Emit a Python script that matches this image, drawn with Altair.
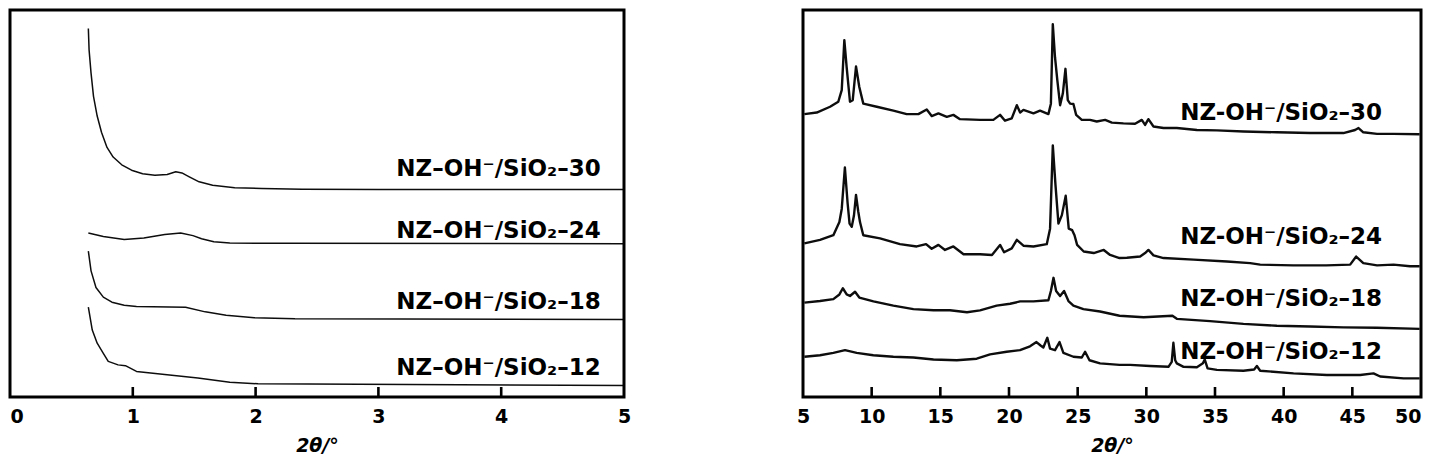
import altair as alt
import pandas as pd

# ---------------- Left panel (small-angle XRD), 2θ 0–5 ----------------
L_LABELS = ["NZ–OH⁻/SiO₂–30", "NZ–OH⁻/SiO₂–24", "NZ–OH⁻/SiO₂–18", "NZ–OH⁻/SiO₂–12"]
L_LABEL_X = [4.81, 4.81, 4.81, 4.81]
L_LABEL_Y = [59.0, 43.0, 24.6, 7.6]

L30_X = [0.638, 0.644, 0.66, 0.68, 0.71, 0.745, 0.79, 0.84, 0.91, 0.99, 1.08, 1.18, 1.28, 1.35,
         1.40, 1.46, 1.54, 1.65, 1.83, 2.05, 2.38, 3.0, 4.0, 5.0]
L30_Y = [95.2, 89.7, 83.7, 77.7, 72.6, 68.4, 64.5, 62.0, 60.0, 58.6, 57.7, 57.3, 57.5, 58.2,
         57.9, 56.9, 55.6, 54.7, 54.1, 53.9, 53.7, 53.6, 53.6, 53.6]
L24_X = [0.638, 0.76, 0.93, 1.09, 1.26, 1.39, 1.49, 1.56, 1.66, 1.79, 2.25, 5.0]
L24_Y = [42.4, 41.5, 40.7, 41.1, 42.0, 42.4, 41.7, 40.9, 40.1, 39.8, 39.7, 39.6]
L18_X = [0.638, 0.66, 0.70, 0.76, 0.83, 0.93, 1.03, 1.43, 1.59, 1.76, 1.99, 2.32, 5.0]
L18_Y = [37.7, 32.6, 28.3, 25.8, 24.5, 23.7, 23.4, 23.2, 22.0, 21.1, 20.5, 20.2, 20.0]
L12_X = [0.638, 0.67, 0.71, 0.76, 0.80, 0.88, 0.94, 1.03, 1.26, 1.53, 1.79, 2.02, 3.25, 5.0]
L12_Y = [23.2, 17.3, 13.9, 11.3, 9.2, 8.3, 8.1, 6.6, 5.8, 4.9, 3.8, 3.4, 3.2, 3.0]

L_TICKS = [0, 1, 2, 3, 4, 5]
L_INNER_TICKS = [1, 2, 3, 4]

# ---------------- Right panel (wide-angle XRD), 2θ 5–50 ----------------
R_LABELS = ["NZ-OH⁻/SiO₂–30", "NZ-OH⁻/SiO₂–24", "NZ-OH⁻/SiO₂–18", "NZ-OH⁻/SiO₂–12"]
R_LABEL_X = [47.17, 47.17, 47.17, 47.17]
R_LABEL_Y = [73.3, 41.4, 25.3, 11.7]

R30_X = [5.1, 6.0, 6.97, 7.57, 7.82, 8.01, 8.18, 8.42, 8.62, 8.86, 9.10, 9.39, 10.37, 11.58, 12.55,
         13.4, 14.01, 14.37, 14.86, 15.47, 15.95, 16.43, 17.89, 18.86, 19.35, 19.71, 20.2, 20.57,
         20.81, 21.05, 21.78, 22.26, 22.87, 23.05, 23.19, 23.35, 23.52, 23.72, 23.92, 24.11, 24.28,
         24.45, 24.69, 24.89, 25.30, 25.9, 26.39, 27.0, 27.49, 28.33, 29.18, 29.67, 29.91, 30.15,
         30.52, 31.25, 32.22, 33.68, 35.14, 37.08, 39.5, 41.93, 44.35, 45.2, 45.45, 45.8, 46.8,
         48.0, 49.9]
R30_Y = [73.1, 73.5, 75.0, 76.3, 79.3, 92.2, 85.2, 76.3, 76.7, 85.4, 80.1, 75.8, 75.0, 74.0, 73.1,
         73.1, 74.3, 72.6, 73.3, 72.4, 72.9, 71.8, 71.6, 71.6, 72.9, 71.4, 72.0, 75.4,
         73.5, 74.2, 73.3, 74.0, 73.1, 75.8, 96.3, 87.8, 81.8, 75.4, 78.4, 84.8, 76.7,
         75.8, 75.7, 72.9, 71.6, 71.6, 71.2, 71.6, 70.9, 70.7, 70.6, 71.6, 70.3, 71.8,
         69.9, 69.5, 69.5, 69.0, 68.9, 68.6, 68.4, 68.2, 68.2, 69.0, 69.5, 68.4, 68.0,
         68.0, 67.9]

R24_X = [5.1, 6.24, 7.21, 7.65, 7.82, 8.05, 8.25, 8.39, 8.55, 8.71, 8.86, 9.02, 9.15, 9.39, 10.61,
         12.06, 13.28, 13.96, 14.37, 14.86, 15.34, 15.95, 16.69, 17.89, 18.76, 19.35, 19.64, 20.2,
         20.57, 21.05, 21.78, 22.75, 22.99, 23.19, 23.38, 23.6, 23.85, 24.13, 24.35, 24.6, 24.77,
         24.96, 25.44, 26.17, 26.9, 27.36, 28.05, 28.58, 29.55, 29.91, 30.15, 30.52, 31.25, 33.44,
         35.87, 37.56, 38.29, 40.7, 43.1, 44.84, 45.28, 45.8, 46.8, 48.0, 49.2, 49.9]
R24_Y = [39.7, 40.6, 41.8, 45.2, 48.6, 59.3, 50.0, 44.8, 44.0, 46.9, 52.2, 48.0, 45.2, 41.8, 41.0,
         39.5, 38.9, 39.5, 38.3, 39.3, 38.0, 38.9, 36.9, 36.9, 36.7, 39.3, 37.4, 38.4,
         40.6, 39.1, 38.9, 39.5, 43.5, 65.0, 55.0, 44.8, 47.0, 52.0, 43.5, 43.1, 41.8,
         39.3, 37.6, 37.2, 38.0, 36.7, 35.9, 36.0, 36.3, 37.2, 38.0, 36.6, 35.9, 35.5,
         35.0, 34.6, 34.2, 34.0, 34.0, 34.2, 36.3, 34.6, 34.0, 34.2, 33.8, 33.8]

R18_X = [5.1, 6.24, 7.21, 7.65, 7.9, 8.18, 8.42, 8.79, 9.1, 10.13, 11.58, 13.04, 14.5, 15.7, 16.94,
         17.89, 19.1, 20.08, 20.81, 21.78, 22.87, 23.05, 23.24, 23.43, 23.72, 24.01, 24.33, 24.69,
         25.42, 26.63, 28.05, 29.8, 31.9, 32.22, 34.64, 37.07, 39.5, 41.93, 44.35, 46.78, 49.9]
R18_Y = [24.4, 24.8, 25.3, 26.5, 28.1, 26.5, 26.1, 27.2, 25.7, 24.7, 23.6, 22.7, 22.4, 22.4, 21.9,
         22.4, 23.6, 24.1, 24.7, 24.7, 25.0, 27.4, 30.8, 27.4, 26.1, 27.4, 24.8, 23.6,
         22.7, 22.1, 21.0, 20.6, 21.0, 20.2, 19.6, 18.9, 18.4, 18.2, 18.0, 17.9, 17.6]

R12_X = [5.1, 6.24, 7.21, 8.06, 8.91, 10.12, 11.58, 13.04, 14.5, 16.2, 17.65, 18.62, 19.83, 20.8,
         21.53, 22.0, 22.3, 22.5, 22.79, 22.99, 23.35, 23.68, 23.96, 24.69, 25.3, 25.54, 25.86,
         26.63, 28.05, 28.82, 30.27, 31.61, 31.85, 31.97, 32.1, 32.22, 32.71, 33.68, 34.12, 34.25,
         34.46, 35.14, 37.07, 37.85, 38.05, 38.29, 40.72, 43.15, 45.57, 46.54, 47.03, 48.73, 49.9]
R12_Y = [10.4, 10.8, 11.4, 12.1, 11.4, 10.8, 10.4, 10.2, 9.7, 9.5, 9.9, 11.0, 11.7, 12.1,
         13.1, 14.2, 13.3, 12.8, 15.3, 12.5, 12.1, 14.2, 11.4, 10.4, 10.2, 11.7, 9.5,
         8.7, 8.3, 8.3, 8.0, 7.8, 9.1, 14.0, 9.5, 8.7, 7.8, 7.7, 8.7, 9.7,
         7.4, 7.0, 6.8, 7.1, 8.0, 6.8, 6.1, 5.7, 5.7, 6.1, 5.3, 4.8, 4.8]

R_TICKS = [5, 10, 15, 20, 25, 30, 35, 40, 45, 50]
R_INNER_TICKS = [10, 15, 20, 25, 30, 35, 40, 45]

H = 387
TITLE = "2θ/°"


def build_df(curves, names):
    rows = []
    for name, (xs, ys) in zip(names, curves):
        for i, (x, y) in enumerate(zip(xs, ys)):
            rows.append({"series": name, "idx": i, "x": x, "y": y})
    return pd.DataFrame(rows)


def panel(curves, names, labels, lab_x, lab_y, domain, ticks, inner, width, sw, align_expr):
    df = build_df(curves, names)
    xs = alt.Scale(domain=domain, nice=False, zero=False)
    ys = alt.Scale(domain=[0, 100], nice=False, zero=True)
    axis = alt.Axis(values=ticks, format="d", labelAlign=align_expr)
    lines = alt.Chart(df).mark_line(color="black", strokeWidth=sw, strokeJoin="round",
                                    opacity=0.95).encode(
        x=alt.X("x:Q", scale=xs, axis=axis, title=TITLE),
        y=alt.Y("y:Q", scale=ys, axis=None),
        detail="series:N",
        order="idx:Q",
    )
    tk = alt.Chart(pd.DataFrame({"t": inner})).mark_rule(color="black", strokeWidth=2.6).encode(
        x=alt.X("t:Q", scale=xs, title=TITLE),
        y=alt.value(H),
        y2=alt.value(H - 10),
    )
    txt = alt.Chart(pd.DataFrame({"label": labels, "lx": lab_x, "ly": lab_y})).mark_text(
        align="right", baseline="middle", font="DejaVu Sans", fontWeight="bold",
        fontSize=23, color="black").encode(
        x=alt.X("lx:Q", scale=xs, title=TITLE),
        y=alt.Y("ly:Q", scale=ys, axis=None),
        text="label:N",
    )
    return alt.layer(lines, tk, txt).properties(width=width, height=H)


left = panel([(L30_X, L30_Y), (L24_X, L24_Y), (L18_X, L18_Y), (L12_X, L12_Y)],
             ["30", "24", "18", "12"], L_LABELS, L_LABEL_X, L_LABEL_Y,
             [0, 5], L_TICKS, L_INNER_TICKS, 614, 1.5,
             {"expr": "datum.value == 0 ? 'left' : 'center'"})
right = panel([(R30_X, R30_Y), (R24_X, R24_Y), (R18_X, R18_Y), (R12_X, R12_Y)],
              ["30", "24", "18", "12"], R_LABELS, R_LABEL_X, R_LABEL_Y,
              [5, 50], R_TICKS, R_INNER_TICKS, 618, 2.4,
              {"expr": "datum.value == 50 ? 'right' : 'center'"})

chart = alt.hconcat(left, right, spacing=179, bounds="flush").properties(
    padding={"left": 0, "top": 0, "right": 0, "bottom": 0},
    background="white",
).configure_view(
    stroke="black", strokeWidth=3
).configure_axis(
    domain=False, ticks=False, grid=False,
    labelFont="DejaVu Sans", labelFontSize=19, labelFontWeight="bold", labelColor="black",
    labelPadding=10,
    titleFont="DejaVu Sans", titleFontSize=19, titleFontWeight="bold", titleFontStyle="italic",
    titleColor="black", titlePadding=10,
)

chart.save("out.html", embed_options={"renderer": "svg", "actions": False})
